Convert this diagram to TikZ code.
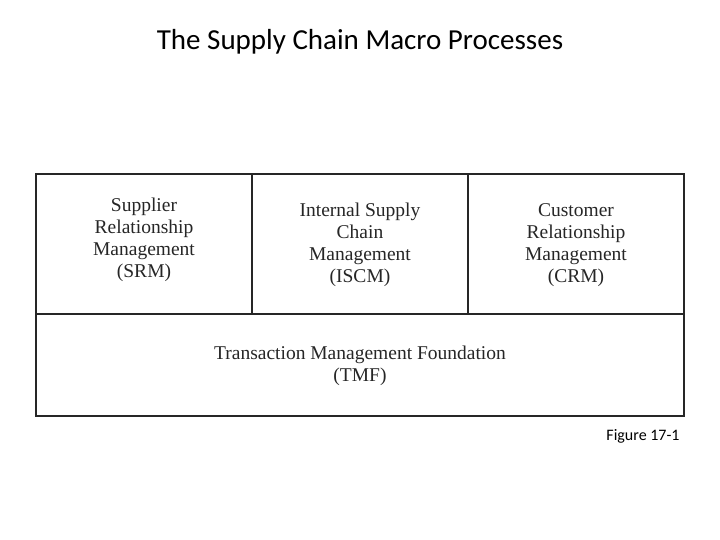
\documentclass[tikz,border=0pt]{standalone}
\usepackage{fontspec}
\setmainfont{Liberation Serif}
\newfontfamily\titlefont{Carlito}
\usetikzlibrary{positioning}

\begin{document}
\begin{tikzpicture}[x=1pt,y=-1pt,line width=1.2pt]
        \tikzset{cell/.style={align=center,text=black!85,font=\fontsize{19.5}{22}\selectfont}}
        \useasboundingbox (0,0) rectangle (720,540);
        \node[font=\titlefont\fontsize{29}{32}\selectfont] (title) at (360,42) {The Supply Chain Macro Processes};
        \coordinate (tl) at (36,174);
        \coordinate (br) at (684,416);
        \coordinate (ml) at (36,314);
        \coordinate (mr) at (684,314);
        \draw[black!85] (tl) rectangle (br);
        \draw[black!85] (ml)--(mr);
        \draw[black!85] (252,174)--(252,314);
        \draw[black!85] (468,174)--(468,314);
        \node[cell] (srm) at (144,240) {Supplier\\Relationship\\Management\\(SRM)};
        \node[cell] (iscm) at (360,245) {Internal Supply\\Chain\\Management\\(ISCM)};
        \node[cell] (crm) at (576,245) {Customer\\Relationship\\Management\\(CRM)};
        \node[cell] (tmf) at (360,366) {Transaction Management Foundation\\(TMF)};
        \node[font=\titlefont\fontsize{16}{18}\selectfont] (fig) at (643,436) {Figure 17-1};
    \end{tikzpicture}
\end{document}
